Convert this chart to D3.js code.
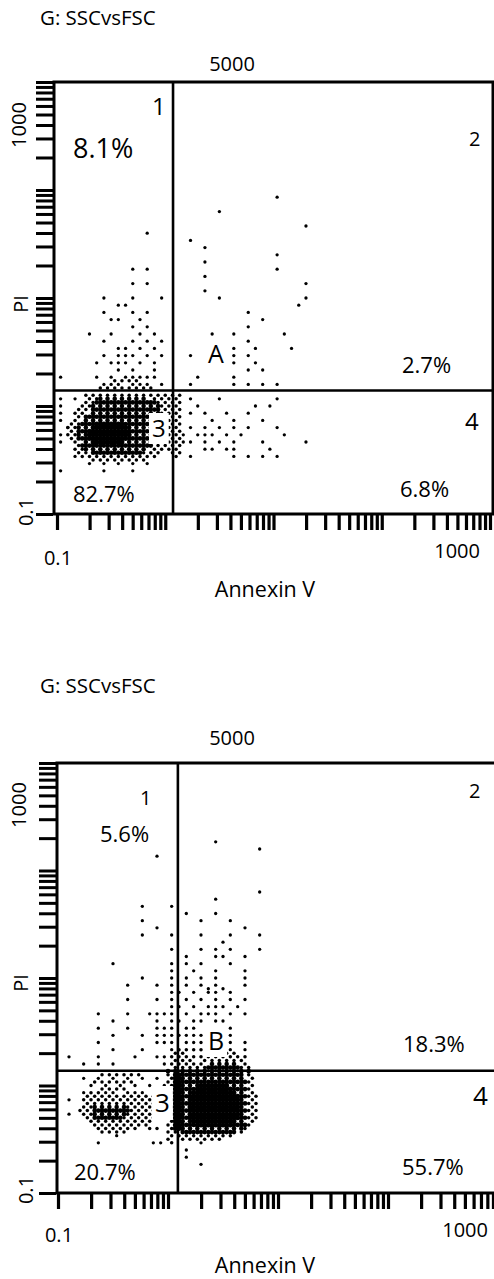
<!DOCTYPE html>
<html>
<head>
<meta charset="utf-8">
<script src="https://cdn.jsdelivr.net/npm/d3@7"></script>
<style>
  body { margin: 0; background: #fff; }
  text { font-family: "Open Sans", "Noto Sans", sans-serif; fill: #000; }
</style>
</head>
<body>
<div id="chart"></div>
<script>
// axis range shared by both plots
const xDomain = [0.1, 1000];
const yDomain = [0.1, 1000];
const gateName = "G: SSCvsFSC";
const eventCount = "5000";
const xTitle = "Annexin V";
const yTitle = "PI";
const axisLabels = ["0.1", "1000"];
const quadNames = ["1", "2", "3", "4"];

// gate positions [Annexin V, PI]
const gateTop = [1.18, 1.39];
const gateBottom = [1.23, 1.37];

// quadrant percentages, order 1,2,3,4
const pctTop = ["8.1%", "2.7%", "82.7%", "6.8%"];
const pctBottom = ["5.6%", "18.3%", "20.7%", "55.7%"];
const popLabels = ["A", "B"];

// events in half channels (30 per decade, 0 = 0.1): [PI, [Annexin V ...]]
const sparseTop = [
  [88, [61]], [84, [45]], [80, [69]], [78, [25]], [76, [37]], [74, [41]],
  [72, [61]], [70, [41]], [68, [21, 25, 61]], [66, [41]], [64, [21, 25, 69]],
  [62, [41]], [60, [13, 21, 29, 45, 69]], [58, [17, 19, 67]],
  [56, [13, 21, 25, 53]], [54, [15, 17, 23, 57]], [52, [21, 25, 53]],
  [50, [9, 15, 23, 27, 43, 49, 63]], [48, [13, 21, 25, 29, 53]],
  [46, [17, 19, 23, 27, 49, 55, 65]], [44, [13, 17, 19, 21, 25, 29, 37, 49, 53]],
  [42, [11, 15, 17, 19, 23, 27, 49, 55]], [40, [17, 21, 27, 53, 57]],
  [38, [1, 11, 15, 19, 21, 23, 25, 27, 39, 49]],
  [36, [13, 15, 17, 21, 23, 25, 29, 37, 49, 53, 57, 61]],
  [32, [1, 5, 37, 45, 61]], [30, [1, 39, 55, 59]], [28, [1, 37, 41, 47, 53]],
  [26, [1, 43, 49, 57]], [24, [3, 37, 41, 45, 49, 53, 61]],
  [22, [1, 35, 39, 41, 43, 47, 51, 63]], [20, [1, 35, 37, 41, 45, 49, 57, 69]],
  [18, [41, 43, 47, 49, 59]], [16, [5, 37, 49, 53, 57, 61]],
  [14, [9, 13, 17, 21, 25]], [12, [1, 13, 21]]
];

// dense areas: [PI, [[from, to, fill] ...]]; fill "+" checker, "%" dense with holes, "#" solid
const blobTop = [
  [37, [[16, 22, "+"]]],
  [35, [[12, 26, "+"]]],
  [33, [[8, 34, "+"]]],
  [32, [[8, 11, "+"], [12, 25, "%"], [26, 34, "+"]]],
  [31, [[8, 10, "+"], [11, 27, "%"], [28, 34, "+"]]],
  [30, [[7, 9, "+"], [10, 28, "%"], [29, 34, "+"]]],
  [29, [[6, 9, "+"], [10, 28, "%"], [29, 34, "+"]]],
  [28, [[5, 8, "+"], [9, 28, "%"], [29, 34, "+"]]],
  [27, [[5, 7, "+"], [8, 28, "%"], [29, 34, "+"]]],
  [26, [[4, 6, "+"], [7, 28, "%"], [29, 34, "+"]]],
  [25, [[4, 6, "+"], [7, 10, "%"], [11, 18, "#"], [19, 28, "%"], [29, 34, "+"]]],
  [24, [[3, 5, "+"], [6, 9, "%"], [10, 19, "#"], [20, 28, "%"], [29, 34, "+"]]],
  [23, [[3, 5, "+"], [6, 8, "%"], [9, 20, "#"], [21, 28, "%"], [29, 34, "+"]]],
  [22, [[3, 5, "+"], [6, 8, "%"], [9, 20, "#"], [21, 28, "%"], [29, 34, "+"]]],
  [21, [[4, 5, "+"], [6, 8, "%"], [9, 19, "#"], [20, 28, "%"], [29, 34, "+"]]],
  [20, [[4, 6, "+"], [7, 9, "%"], [10, 18, "#"], [19, 27, "%"], [28, 34, "+"]]],
  [19, [[5, 6, "+"], [7, 26, "%"], [27, 34, "+"]]],
  [18, [[5, 7, "+"], [8, 25, "%"], [26, 34, "+"]]],
  [17, [[6, 9, "+"], [10, 23, "%"], [24, 29, "+"], [32, 34, "+"]]],
  [16, [[7, 28, "+"], [32, 34, "+"]]],
  [15, [[9, 25, "+"]]]
];

const sparseBottom = [
  [98, [43]], [96, [55]], [94, [27]], [84, [55]], [82, [43]], [80, [23, 31]],
  [78, [35, 43]], [76, [23, 39, 47]], [74, [27, 51]], [72, [23, 31, 39, 47, 55]],
  [70, [45]], [68, [31, 39, 43, 47, 55]], [66, [35, 43, 45, 51]],
  [64, [15, 31, 35, 39, 47]], [62, [31, 37, 43, 51]], [60, [23, 31, 35, 39, 43, 51]],
  [58, [19, 27, 31, 35, 39, 43, 51]], [57, [41, 45]],
  [56, [31, 33, 37, 41, 43, 47]], [54, [19, 27, 31, 35, 39, 43, 47, 51]],
  [52, [31, 33, 37, 41, 43, 45, 49]],
  [50, [11, 19, 25, 27, 29, 31, 35, 39, 41, 43, 47, 51]],
  [48, [15, 27, 31, 33, 37, 39, 43, 45]], [46, [11, 19, 27, 29, 31, 35, 37, 47]],
  [44, [15, 23, 27, 29, 31, 33, 35, 37, 39, 47]],
  [42, [11, 27, 29, 31, 35, 37, 39, 47, 51]], [40, [15, 23, 31, 47, 51]],
  [38, [3, 11, 21, 27, 29]], [36, [7, 11, 15, 29]],
  [32, [7, 11, 15, 19, 23, 27]], [30, [9, 13, 17, 21, 25, 29]],
  [28, [7, 13, 15, 19, 21, 23]], [26, [3]], [22, [3]],
  [16, [16]], [14, [11, 26, 28, 39]], [12, [35]], [10, [35]], [8, [39]]
];

const blobBottom = [
  [40, [[33, 39, "+"]]],
  [39, [[32, 35, "+"], [41, 48, "+"]]],
  [38, [[31, 51, "+"]]],
  [37, [[31, 36, "+"], [39, 50, "+"]]],
  [36, [[31, 40, "+"], [41, 49, "%"], [50, 51, "+"]]],
  [35, [[31, 40, "+"], [41, 49, "%"], [50, 52, "+"]]],
  [34, [[30, 52, "%"]]],
  [33, [[12, 22, "+"], [30, 31, "+"], [32, 33, "#"], [34, 50, "%"], [51, 52, "+"]]],
  [32, [[30, 31, "+"], [32, 33, "#"], [34, 51, "%"], [52, 53, "+"]]],
  [31, [[10, 20, "+"], [30, 31, "+"], [32, 33, "#"], [34, 51, "%"], [52, 53, "+"]]],
  [30, [[30, 31, "+"], [32, 33, "#"], [34, 38, "%"], [39, 46, "#"], [47, 51, "%"], [52, 54, "+"]]],
  [29, [[11, 19, "+"], [30, 31, "+"], [32, 33, "#"], [34, 37, "%"], [38, 47, "#"], [48, 51, "%"], [52, 53, "+"]]],
  [28, [[9, 11, "+"], [30, 31, "+"], [32, 33, "#"], [34, 36, "%"], [37, 48, "#"], [49, 51, "%"], [52, 54, "+"]]],
  [27, [[8, 26, "+"], [30, 31, "+"], [32, 33, "#"], [34, 35, "%"], [36, 49, "#"], [50, 51, "%"], [52, 54, "+"]]],
  [26, [[7, 27, "+"], [30, 31, "+"], [32, 33, "#"], [34, 35, "%"], [36, 49, "#"], [50, 51, "%"], [52, 54, "+"]]],
  [25, [[7, 27, "+"], [30, 31, "+"], [32, 33, "#"], [34, 35, "%"], [36, 49, "#"], [50, 51, "%"], [52, 54, "+"]]],
  [24, [[7, 9, "+"], [10, 18, "%"], [19, 27, "+"], [30, 31, "+"], [32, 33, "#"], [34, 35, "%"], [36, 49, "#"], [50, 51, "%"], [52, 54, "+"]]],
  [23, [[6, 9, "+"], [10, 19, "%"], [20, 27, "+"], [30, 31, "+"], [32, 33, "#"], [34, 35, "%"], [36, 49, "#"], [50, 51, "%"], [52, 54, "+"]]],
  [22, [[6, 9, "+"], [10, 18, "%"], [19, 28, "+"], [30, 31, "+"], [32, 33, "#"], [34, 35, "%"], [36, 49, "#"], [50, 51, "%"], [52, 54, "+"]]],
  [21, [[7, 9, "+"], [10, 17, "%"], [18, 27, "+"], [30, 31, "+"], [32, 33, "#"], [34, 35, "%"], [36, 49, "#"], [50, 51, "%"], [52, 54, "+"]]],
  [20, [[8, 26, "+"], [30, 31, "+"], [32, 33, "#"], [34, 36, "%"], [37, 48, "#"], [49, 51, "%"], [52, 54, "+"]]],
  [19, [[9, 24, "+"], [30, 31, "+"], [32, 33, "#"], [34, 37, "%"], [38, 47, "#"], [48, 51, "%"], [52, 53, "+"]]],
  [18, [[10, 15, "+"], [17, 21, "+"], [24, 28, "+"], [30, 31, "+"], [32, 33, "#"], [34, 50, "%"], [51, 52, "+"]]],
  [17, [[12, 18, "+"], [30, 33, "+"], [34, 48, "%"], [49, 51, "+"]]],
  [16, [[30, 48, "+"]]],
  [15, [[30, 31, "+"], [34, 45, "+"]]],
  [14, [[30, 31, "+"]]]
];

// layout of the two plots (pixels)
const layoutTop = {
  left: 57, right: 490, bottom: 514, top: 82, frameL: 54, frameR: 493,
  title: [40, 25], count: [232, 71],
  q1: [152, 115, 24], q2: [469, 146, 20], q3: [152, 437, 24], q4: [465, 430, 24],
  p1: [73, 158, 27], p2: [402, 373, 22], p3: [73, 502, 22], p4: [400, 497, 22],
  pop: [208, 363, 25],
  xLab: [565, 558], xTitle: [265, 597],
  yLab: [25.5, 125, 33, 512], yTitle: [28, 304]
};
const layoutBottom = {
  left: 58, right: 498, bottom: 1193, top: 763, frameL: 57, frameR: 497,
  title: [40, 693], count: [232, 745],
  q1: [140, 805, 20], q2: [469, 798, 20], q3: [155, 1112, 26], q4: [473, 1105, 26],
  p1: [100, 842, 22], p2: [403, 1052, 22], p3: [74, 1180, 22], p4: [402, 1175, 22],
  pop: [208, 1050, 25],
  xLab: [1242, 1237], xTitle: [265, 1273],
  yLab: [25.5, 805, 33, 1190], yTitle: [28, 983]
};

const width = 494, height = 1279;
const svg = d3.select("#chart").append("svg")
  .attr("width", width)
  .attr("height", height);

// half channel -> fluorescence value
const binToValue = b => 0.1 * Math.pow(10, b / 30);

const logTicks = [];
for (let e = -1; e < 3; e++) {
  for (let m = 1; m < 10; m++) logTicks.push(m * Math.pow(10, e));
}
logTicks.push(1000);

function buildEvents(sparse, blob) {
  const pts = [];
  sparse.forEach(([yb, xs]) => xs.forEach(xb => pts.push({xb: xb, yb: yb, r: 1.65})));
  blob.forEach(([yb, segs]) => {
    segs.forEach(([a, b, c]) => {
      for (let xb = a; xb <= b; xb++) {
        if (c === "+" && (xb + yb) % 2 === 1) pts.push({xb: xb, yb: yb, r: 1.75});
        if (c === "%" && !(xb % 2 === 1 && yb % 2 === 0)) pts.push({xb: xb, yb: yb, r: 2.3});
        if (c === "#") pts.push({xb: xb, yb: yb, r: 2.5});
      }
    });
  });
  return pts;
}

function addText(g, str, x, y, size, anchor) {
  return g.append("text")
    .attr("x", x).attr("y", y)
    .attr("text-anchor", anchor || "start")
    .style("font-size", size + "px")
    .text(str);
}

// label sitting on a white patch that hides the events under it
function boxedText(g, str, x, y, size) {
  const t = addText(g, str, x, y, size);
  const bb = t.node().getBBox();
  g.insert("rect", () => t.node())
    .attr("x", bb.x - 3).attr("y", bb.y + 2)
    .attr("width", bb.width + 6).attr("height", bb.height - 2)
    .attr("fill", "#fff");
}

function drawPanel(p, gate, pct, sparse, blob, pop, id) {
  const x = d3.scaleLog().domain(xDomain).range([p.left, p.right]);
  const y = d3.scaleLog().domain(yDomain).range([p.bottom, p.top]);
  const g = svg.append("g");

  g.append("clipPath").attr("id", "clip" + id)
    .append("rect")
    .attr("x", p.frameL).attr("y", p.top)
    .attr("width", p.frameR - p.frameL).attr("height", p.bottom - p.top);

  // events
  g.append("g")
    .attr("clip-path", `url(#clip${id})`)
    .selectAll("circle")
    .data(buildEvents(sparse, blob))
    .join("circle")
    .attr("cx", d => x(binToValue(d.xb)))
    .attr("cy", d => y(binToValue(d.yb)))
    .attr("r", d => d.r)
    .attr("fill", "#000");

  // frame and quadrant gates
  g.append("rect")
    .attr("x", p.frameL).attr("y", p.top)
    .attr("width", p.frameR - p.frameL).attr("height", p.bottom - p.top)
    .attr("fill", "none").attr("stroke", "#000").attr("stroke-width", 3);
  g.append("line")
    .attr("x1", x(gate[0])).attr("x2", x(gate[0]))
    .attr("y1", p.top).attr("y2", p.bottom)
    .attr("stroke", "#000").attr("stroke-width", 2.6);
  g.append("line")
    .attr("x1", p.frameL).attr("x2", p.frameR)
    .attr("y1", y(gate[1])).attr("y2", y(gate[1]))
    .attr("stroke", "#000").attr("stroke-width", 2.6);

  // log ticks
  g.append("g")
    .attr("transform", `translate(0,${p.bottom + 1})`)
    .call(d3.axisBottom(x).tickValues(logTicks).tickSize(15).tickFormat(""))
    .call(a => a.select(".domain").remove())
    .selectAll("line").attr("stroke", "#000").attr("stroke-width", 3.2);
  g.append("g")
    .attr("transform", `translate(${p.frameL - 1},0)`)
    .call(d3.axisLeft(y).tickValues(logTicks).tickSize(17).tickFormat(""))
    .call(a => a.select(".domain").remove())
    .selectAll("line").attr("stroke", "#000").attr("stroke-width", 3);

  // texts
  addText(g, gateName, p.title[0], p.title[1], 20.5);
  addText(g, eventCount, p.count[0], p.count[1], 20, "middle");
  addText(g, axisLabels[0], x(xDomain[0]) + 1, p.xLab[0], 20, "middle");
  addText(g, axisLabels[1], x(xDomain[1]) - 10, p.xLab[1], 20, "end");
  addText(g, xTitle, p.xTitle[0], p.xTitle[1], 21.5, "middle");

  addText(g, axisLabels[1], 0, 0, 20, "middle")
    .attr("transform", `translate(${p.yLab[0]},${p.yLab[1]}) rotate(-90)`);
  addText(g, axisLabels[0], 0, 0, 20, "middle")
    .attr("transform", `translate(${p.yLab[2]},${p.yLab[3]}) rotate(-90)`);
  addText(g, yTitle, 0, 0, 20, "middle")
    .attr("transform", `translate(${p.yTitle[0]},${p.yTitle[1]}) rotate(-90)`);

  addText(g, quadNames[0], p.q1[0], p.q1[1], p.q1[2]);
  addText(g, quadNames[1], p.q2[0], p.q2[1], p.q2[2]);
  boxedText(g, quadNames[2], p.q3[0], p.q3[1], p.q3[2]);
  addText(g, quadNames[3], p.q4[0], p.q4[1], p.q4[2]);
  boxedText(g, pop, p.pop[0], p.pop[1], p.pop[2]);

  addText(g, pct[0], p.p1[0], p.p1[1], p.p1[2]);
  addText(g, pct[1], p.p2[0], p.p2[1], p.p2[2]);
  addText(g, pct[2], p.p3[0], p.p3[1], p.p3[2]);
  addText(g, pct[3], p.p4[0], p.p4[1], p.p4[2]);
}

drawPanel(layoutTop, gateTop, pctTop, sparseTop, blobTop, popLabels[0], "top");
drawPanel(layoutBottom, gateBottom, pctBottom, sparseBottom, blobBottom, popLabels[1], "bottom");
</script>
</body>
</html>
